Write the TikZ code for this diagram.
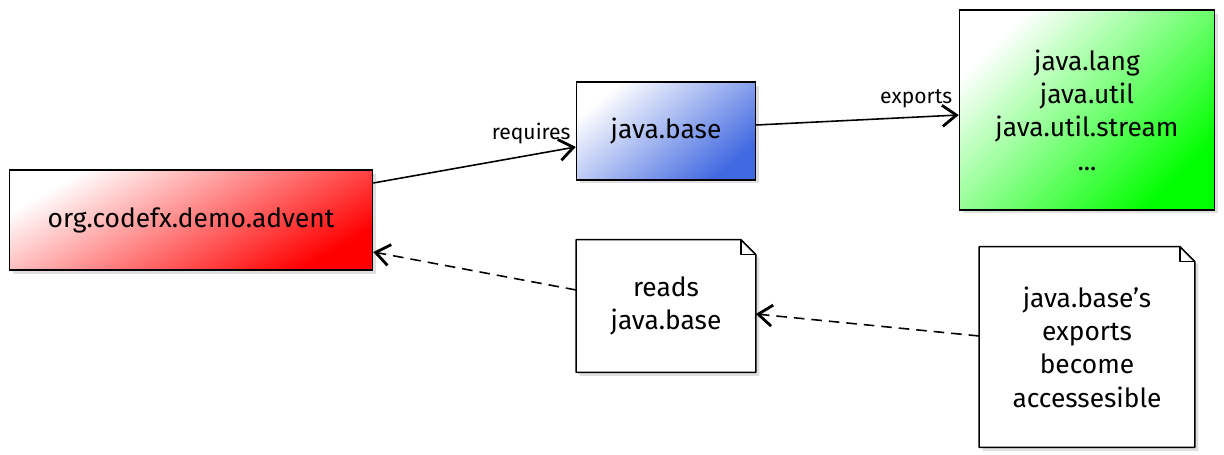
\documentclass[tikz,border=0pt]{standalone}
\usepackage{fontspec}
\setmainfont{Fira Sans}
\usetikzlibrary{arrows.meta,shadows,backgrounds}

\begin{document}
\begin{tikzpicture}[x=0.02cm, y=-0.02cm,
		module_style/.style={draw=black,line width=0.9pt,align=center,font=\fontsize{15}{19}\selectfont,
			drop shadow={opacity=0.25,shadow xshift=2pt,shadow yshift=-2pt}},
		note_style/.style={align=center,font=\fontsize{15}{19}\selectfont},
		note_line/.style={draw=black,fill=white,line width=0.9pt,line join=round,
			drop shadow={opacity=0.25,shadow xshift=2pt,shadow yshift=-2pt}},
		label_style/.style={font=\fontsize{12}{14}\selectfont,inner sep=2pt},
		edge_style/.style={draw=black,line width=0.9pt,-{Straight Barb[length=8pt,width=12pt,line width=1.6pt]}},
		dash_edge_style/.style={edge_style,dash pattern=on 6pt off 4pt}]

		\useasboundingbox (0,0) rectangle (1224,455);

		\node[module_style,minimum width=7.26cm,minimum height=2cm,
			top color=white,bottom color=red,shading angle=30] (advent) at (191,220) {org.codefx.demo.advent};
		\node[module_style,minimum width=3.58cm,minimum height=1.96cm,
			top color=white,bottom color={rgb,255:red,65;green,105;blue,225},shading angle=40] (base) at (666,131) {java.base};
		\node[module_style,minimum width=5.1cm,minimum height=4cm,
			top color=white,bottom color={rgb,255:red,0;green,255;blue,0},shading angle=45] (packages) at (1087,110)
			{java.lang\\java.util\\java.util.stream\\...};
		\node[note_style,minimum width=3.58cm,minimum height=2.64cm] (reads) at (666,306) {reads\\java.base};
		\node[note_style,minimum width=4.3cm,minimum height=4cm] (access) at (1087,347)
			{java.base's\\exports\\become\\accessesible};

		\begin{pgfonlayer}{background}
		\draw[note_line] (reads.south west) -- (reads.north west) -- ([xshift=-0.3cm]reads.north east)
			-- ([yshift=-0.3cm]reads.north east) -- (reads.south east) -- cycle;
		\draw[line width=0.9pt,line join=round] ([xshift=-0.3cm]reads.north east) |- ([yshift=-0.3cm]reads.north east);
		\draw[note_line] (access.south west) -- (access.north west) -- ([xshift=-0.3cm]access.north east)
			-- ([yshift=-0.3cm]access.north east) -- (access.south east) -- cycle;
		\draw[line width=0.9pt,line join=round] ([xshift=-0.3cm]access.north east) |- ([yshift=-0.3cm]access.north east);
		\end{pgfonlayer}

		\draw[edge_style] ([yshift=0.74cm]advent.east) -- node[label_style,pos=0.78,above=4pt]{requires} ([yshift=-0.32cm]base.west);
		\draw[edge_style] ([yshift=0.12cm]base.east) -- node[label_style,pos=0.79,above=3pt]{exports} ([yshift=-0.1cm]packages.west);
		\draw[dash_edge_style] ([yshift=0.32cm]reads.west) -- ([yshift=-0.64cm]advent.east);
		\draw[dash_edge_style] ([yshift=0.22cm]access.west) -- ([yshift=-0.16cm]reads.east);
\end{tikzpicture}
\end{document}
